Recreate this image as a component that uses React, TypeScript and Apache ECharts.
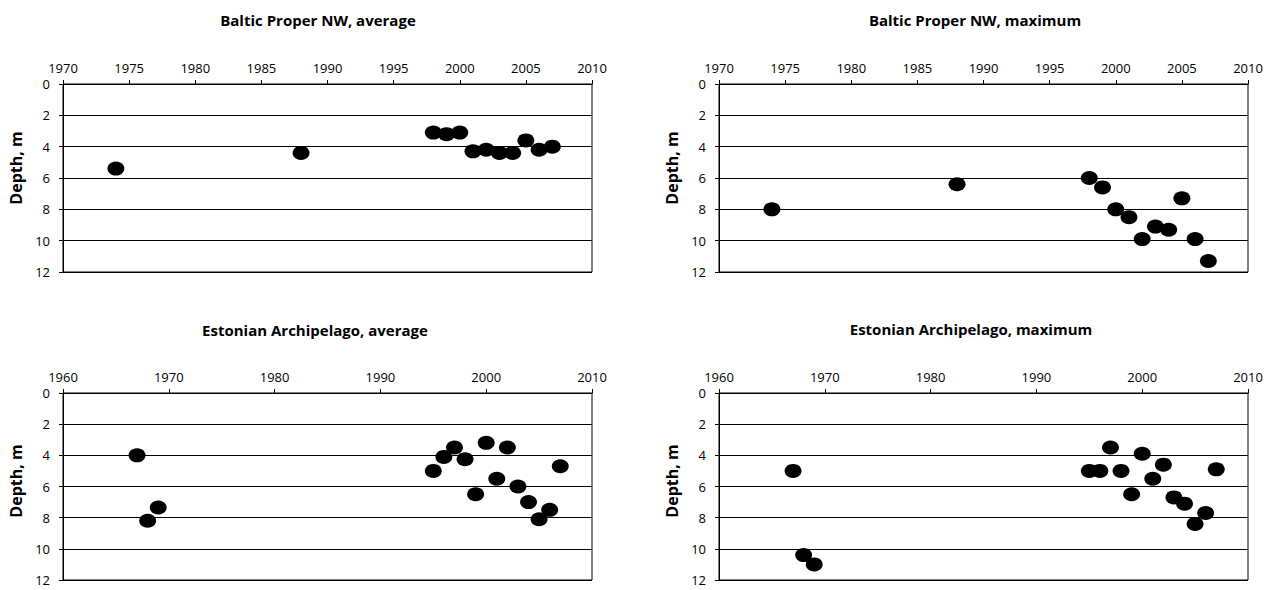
import React, { useEffect, useRef } from "react";
import * as echarts from "echarts";

// Observation years and depths (m)
const balticYears = [1974, 1988, 1998, 1999, 2000, 2001, 2002, 2003, 2004, 2005, 2006, 2007];
const balticAverage = [5.4, 4.4, 3.1, 3.2, 3.1, 4.3, 4.2, 4.4, 4.4, 3.6, 4.2, 4.0];
const balticMaximum = [8.0, 6.4, 6.0, 6.6, 8.0, 8.5, 9.9, 9.1, 9.3, 7.3, 9.9, 11.3];

const estonianYears = [1967, 1968, 1969, 1995, 1996, 1997, 1998, 1999, 2000, 2001, 2002, 2003, 2004, 2005, 2006, 2007];
const estonianAverage = [4.0, 8.2, 7.35, 5.0, 4.1, 3.5, 4.25, 6.5, 3.2, 5.5, 3.5, 6.0, 7.0, 8.1, 7.5, 4.7];
const estonianMaximum = [5.0, 10.4, 11.0, 5.0, 5.0, 3.5, 5.0, 6.5, 3.9, 5.5, 4.6, 6.7, 7.1, 8.4, 7.7, 4.9];

const panelTitles = [
  "Baltic Proper NW, average",
  "Baltic Proper NW, maximum",
  "Estonian Archipelago, average",
  "Estonian Archipelago, maximum",
];
const yAxisTitle = "Depth, m";

const FONT = "'Open Sans', 'Noto Sans', sans-serif";

const toPoints = (xs: number[], ys: number[]) => xs.map((x, i) => [x, ys[i]]);

export default function App() {
  const ref = useRef<HTMLDivElement>(null);

  useEffect(() => {
    if (!ref.current) return;
    const chart = echarts.init(ref.current, null, { renderer: "svg" });

    const grids = [
      { left: 63, top: 84, width: 529, height: 188 },
      { left: 719, top: 84, width: 529, height: 188 },
      { left: 63, top: 393, width: 529, height: 187 },
      { left: 719, top: 393, width: 529, height: 187 },
    ];
    const xRanges = [
      { min: 1970, max: 2010, interval: 5 },
      { min: 1970, max: 2010, interval: 5 },
      { min: 1960, max: 2010, interval: 10 },
      { min: 1960, max: 2010, interval: 10 },
    ];
    const seriesData = [
      toPoints(balticYears, balticAverage),
      toPoints(balticYears, balticMaximum),
      toPoints(estonianYears, estonianAverage),
      toPoints(estonianYears, estonianMaximum),
    ];
    const titlePos = [
      { x: 318, y: 12 },
      { x: 975, y: 12 },
      { x: 315, y: 322 },
      { x: 971, y: 321 },
    ];
    const namePos = [
      { x: 16, y: 168 },
      { x: 672, y: 168 },
      { x: 16, y: 481 },
      { x: 672, y: 481 },
    ];

    const option: any = {
      animation: false,
      backgroundColor: "#ffffff",
      title: panelTitles.map((t, i) => ({
        text: t,
        left: titlePos[i].x,
        top: titlePos[i].y,
        textAlign: "center",
        padding: 0,
        textStyle: { fontFamily: FONT, fontSize: 15, fontWeight: "bold", color: "#000" },
      })),
      grid: grids.map((g) => ({
        ...g,
        show: true,
        borderColor: "#000",
        borderWidth: 1,
        backgroundColor: "transparent",
      })),
      xAxis: xRanges.map((r, i) => ({
        type: "value",
        gridIndex: i,
        position: "top",
        min: r.min,
        max: r.max,
        interval: r.interval,
        axisLine: { show: true, lineStyle: { color: "#000", width: 1 } },
        axisTick: { show: true, length: 4, lineStyle: { color: "#000" } },
        axisLabel: {
          fontFamily: FONT,
          fontSize: 13,
          color: "#000",
          margin: 10,
          formatter: (v: number) => String(v),
        },
        splitLine: { show: false },
      })),
      yAxis: grids.map((_, i) => ({
        type: "value",
        gridIndex: i,
        inverse: true,
        min: 0,
        max: 12,
        interval: 2,
        axisLine: { show: true, lineStyle: { color: "#000", width: 1 } },
        axisTick: { show: true, length: 4, lineStyle: { color: "#000" } },
        axisLabel: { fontFamily: FONT, fontSize: 13, color: "#000", margin: 13 },
        splitLine: { show: true, lineStyle: { color: "#000", width: 1 } },
      })),
      graphic: namePos.map((p) => ({
        type: "text",
        x: p.x,
        y: p.y,
        rotation: Math.PI / 2,
        style: {
          text: yAxisTitle,
          fontFamily: FONT,
          fontSize: 16,
          fontWeight: "bold",
          fill: "#000",
          align: "center",
          verticalAlign: "middle",
        },
      })),
      series: seriesData.map((d, i) => ({
        type: "scatter",
        xAxisIndex: i,
        yAxisIndex: i,
        data: d,
        symbol: "circle",
        symbolSize: [17, 14],
        itemStyle: { color: "#000", opacity: 1 },
      })),
    };

    chart.setOption(option);
    return () => chart.dispose();
  }, []);

  return (
    <div
      ref={ref}
      style={{ position: "fixed", left: 0, top: 0, width: 1276, height: 590, background: "#fff" }}
    />
  );
}
